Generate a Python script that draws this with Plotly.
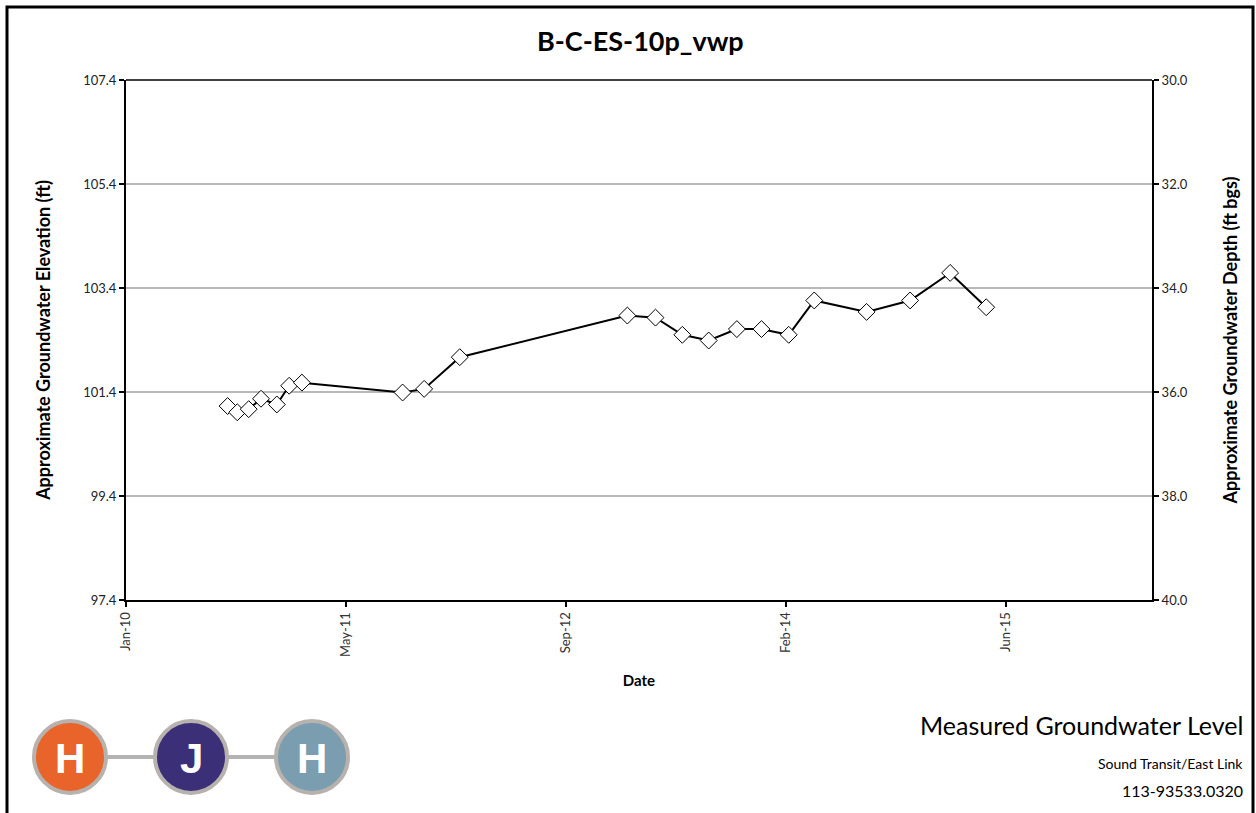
import plotly.graph_objects as go

# Measurement dates and groundwater elevations (ft)
dates = [
    "2010-08-20", "2010-09-11", "2010-10-07", "2010-11-04", "2010-12-10",
    "2011-01-07", "2011-02-05", "2011-09-22", "2011-11-10", "2012-01-30",
    "2013-02-14", "2013-04-19", "2013-06-19", "2013-08-18", "2013-10-21",
    "2013-12-16", "2014-02-16", "2014-04-15", "2014-08-12", "2014-11-19",
    "2015-02-18", "2015-05-11",
]
elevation = [
    101.13, 101.01, 101.07, 101.27, 101.16,
    101.52, 101.58, 101.39, 101.46, 102.07,
    102.87, 102.83, 102.50, 102.39, 102.61,
    102.61, 102.50, 103.16, 102.94, 103.16,
    103.69, 103.03,
]
# Ground surface elevation used to derive depth below ground surface
ground_surface = 137.4
depth = [round(ground_surface - e, 2) for e in elevation]

x_tick_vals = ["2010-01-01", "2011-05-16", "2012-09-27", "2014-02-09", "2015-06-24"]
x_tick_text = ["Jan-10", "May-11", "Sep-12", "Feb-14", "Jun-15"]
elev_ticks = [97.4, 99.4, 101.4, 103.4, 105.4, 107.4]
depth_ticks = [30.0, 32.0, 34.0, 36.0, 38.0, 40.0]

W, H = 1256, 813
L, R, T, B = 126, 1152, 80, 600
FONT = "Lato"


def px(xp):
    return (xp - L) / (R - L)


def py(yp):
    return (B - yp) / (B - T)


fig = go.Figure()
fig.add_trace(go.Scatter(
    x=dates, y=elevation, mode="lines+markers",
    line=dict(color="black", width=2),
    marker=dict(symbol="diamond", size=13, color="white",
                line=dict(color="black", width=1)),
    showlegend=False, hoverinfo="x+y",
))
# Same series on the depth axis (hidden, it coincides with the elevation line)
fig.add_trace(go.Scatter(
    x=dates, y=depth, yaxis="y2", mode="lines",
    line=dict(color="rgba(0,0,0,0)", width=0),
    showlegend=False, hoverinfo="skip",
))

ytick_font = dict(family=FONT, size=13, color="#222222")
xtick_font = dict(family=FONT, size=13, color="#333333")
title_font = dict(family=FONT, size=18, color="black")

fig.update_layout(
    width=W, height=H, autosize=False,
    margin=dict(l=L, r=W - R, t=T, b=H - B, pad=0),
    paper_bgcolor="white", plot_bgcolor="white",
    font=dict(family=FONT, color="black"),
    xaxis=dict(
        type="date", range=["2010-01-01", "2016-05-22"],
        tickvals=x_tick_vals, ticktext=x_tick_text, tickangle=-90,
        tickfont=xtick_font, ticks="outside", ticklen=5, tickwidth=2,
        tickcolor="black", showline=True, linecolor="black", linewidth=2,
        showgrid=False, zeroline=False,
        title=dict(text="<b>Date</b>", font=dict(family=FONT, size=15),
                   standoff=20),
    ),
    yaxis=dict(
        range=[97.4, 107.4], tickvals=elev_ticks,
        ticktext=[f"{v:.1f}" for v in elev_ticks],
        tickfont=ytick_font, ticks="outside", ticklen=5, tickwidth=2,
        tickcolor="black", showline=True, linecolor="black", linewidth=2,
        showgrid=True, gridcolor="#b8b8b8", gridwidth=1.5, zeroline=False,
        title=dict(text="<b>Approximate Groundwater Elevation (ft)</b>",
                   font=title_font, standoff=28),
    ),
    yaxis2=dict(
        overlaying="y", side="right", range=[40, 30], tickvals=depth_ticks,
        ticktext=[f"{v:.1f}" for v in depth_ticks],
        tickfont=ytick_font, ticks="outside", ticklen=5, tickwidth=2,
        tickcolor="black", showline=True, linecolor="black", linewidth=2,
        showgrid=False, zeroline=False,
        title=dict(text="<b>Approximate Groundwater Depth (ft bgs)</b>",
                   font=title_font, standoff=38),
    ),
)

shapes = []
# Top edge of the plot area
shapes.append(dict(type="line", xref="paper", yref="paper", x0=0, x1=1, y0=1, y1=1,
                   line=dict(color="black", width=1.5)))
# Outer frame
shapes.append(dict(type="rect", xref="paper", yref="paper",
                   x0=px(7), x1=px(1253), y0=py(7), y1=py(840),
                   line=dict(color="black", width=3), layer="below"))

# Logo: three linked circles
logo_cy = 757
logo_r = 36
logo_centers = [70, 191, 312]
logo_colors = ["#e8642a", "#3b2f78", "#7b9db0"]
logo_letters = ["H", "J", "H"]
shapes.append(dict(type="line", xref="paper", yref="paper",
                   x0=px(logo_centers[0]), x1=px(logo_centers[-1]),
                   y0=py(logo_cy), y1=py(logo_cy),
                   line=dict(color="#b4b4b4", width=4)))
for cx, col in zip(logo_centers, logo_colors):
    shapes.append(dict(type="circle", xref="paper", yref="paper",
                       x0=px(cx - logo_r), x1=px(cx + logo_r),
                       y0=py(logo_cy + logo_r), y1=py(logo_cy - logo_r),
                       fillcolor=col, line=dict(color="#b8b2ae", width=4)))
fig.update_layout(shapes=shapes)

annotations = [
    dict(text="<b>B-C-ES-10p_vwp</b>", x=px(640), y=py(40), xref="paper", yref="paper",
         showarrow=False, font=dict(family=FONT, size=27, color="black"),
         xanchor="center", yanchor="middle"),
    dict(text="Measured Groundwater Level", x=px(1245), y=py(725), xref="paper",
         yref="paper", showarrow=False, font=dict(family=FONT, size=25, color="black"),
         xanchor="right", yanchor="middle"),
    dict(text="Sound Transit/East Link", x=px(1245), y=py(763), xref="paper",
         yref="paper", showarrow=False, font=dict(family=FONT, size=14, color="black"),
         xanchor="right", yanchor="middle"),
    dict(text="113-93533.0320", x=px(1245), y=py(790), xref="paper",
         yref="paper", showarrow=False, font=dict(family=FONT, size=16, color="black"),
         xanchor="right", yanchor="middle"),
]
for cx, letter in zip(logo_centers, logo_letters):
    annotations.append(dict(text=f"<b>{letter}</b>", x=px(cx), y=py(logo_cy + 1),
                            xref="paper", yref="paper", showarrow=False,
                            font=dict(family="Liberation Sans", size=42, color="white"),
                            xanchor="center", yanchor="middle"))
fig.update_layout(annotations=annotations)

fig.write_html("out.html")
